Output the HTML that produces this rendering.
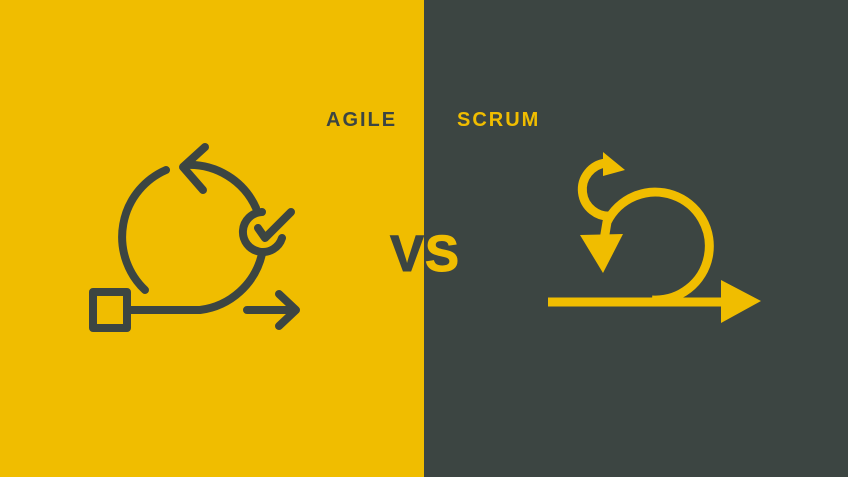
<!DOCTYPE html>
<html><head><style>
html,body{margin:0;padding:0;width:848px;height:477px;overflow:hidden}
svg{display:block}
</style></head><body>
<svg width="848" height="477" viewBox="0 0 848 477" xmlns="http://www.w3.org/2000/svg">
<rect x="0" y="0" width="424" height="477" fill="#f0bd00"/>
<rect x="424" y="0" width="424" height="477" fill="#3c4542"/>
<g font-family="Liberation Sans, sans-serif" font-weight="bold">
<text x="326" y="126" font-size="20" letter-spacing="2" fill="#3c4542">AGILE</text>
<text x="457" y="126" font-size="20" letter-spacing="2" fill="#f0bd00">SCRUM</text>
<text x="390" y="271" font-size="51" fill="#3c4542" stroke="#3c4542" stroke-width="1">V</text>
<text x="425" y="271" font-size="51" fill="#f0bd00" stroke="#f0bd00" stroke-width="1">S</text>
</g>
<g fill="none" stroke="#3c4542" stroke-width="8" stroke-linecap="round" stroke-linejoin="round">
<path d="M145 290 A73 73 0 0 1 166 170"/>
<path d="M205 147 L183 167 L203 190"/>
<path d="M186 165 A73 73 0 0 1 256 208"/>
<path d="M262 212 A20 20 0 1 0 282 238"/>
<path d="M258 228 L265 238 L291 212"/>
<path d="M262 254 A73 73 0 0 1 200 310 L130 310"/>
<rect x="93" y="292" width="34" height="36"/>
<path d="M247 310 L294 310 M279 294 L296 310 L279 326"/>
</g>
<g fill="none" stroke="#f0bd00" stroke-width="9">
<path d="M548 302 L730 302"/>
<path d="M652 300 A54 54 0 1 0 607 222 L604 240"/>
<path d="M612 216 A22 22 0 1 1 606 163"/>
</g>
<g fill="#f0bd00">
<path d="M721 280 L761 301 L721 323 Z"/>
<path d="M580 235 L623 234 L603 273 Z"/>
<path d="M603 152 L625 170 L603 176 Z"/>
</g>
</svg>
</body></html>
